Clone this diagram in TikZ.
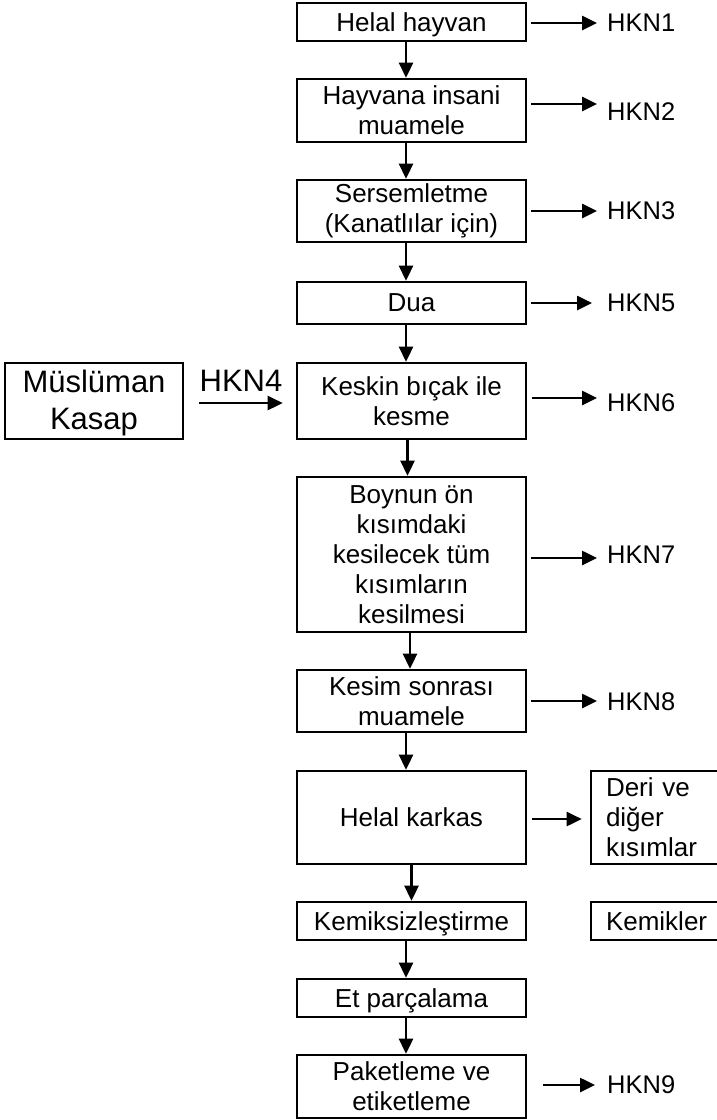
\documentclass[tikz,border=0pt]{standalone}
\usepackage{fontspec}
\setmainfont{Liberation Sans}
\usetikzlibrary{arrows.meta}
\begin{document}
\begin{tikzpicture}[x=1pt,y=-1pt,
  box/.style={draw,line width=2.6pt,minimum width=229pt,inner sep=0pt,align=center,
    font=\fontsize{26}{30}\selectfont},
  onebox/.style={box,text depth=0pt},
  sidebox/.style={draw,line width=2.6pt,minimum width=159pt,text width=129pt,
    inner xsep=15pt,inner ysep=0pt,align=left,font=\fontsize{26}{30}\selectfont},
  hkn/.style={anchor=west,inner sep=0pt,font=\fontsize{25.5}{30}\selectfont},
  arr/.style={line width=2.6pt,-{Triangle[length=15pt,width=14pt]}}]
\useasboundingbox (0,0) rectangle (717,1120);
\clip (0,0) rectangle (717,1120);

% main process chain
\node[onebox,minimum height=38pt] (b1)  at (411.5,22)    {Helal hayvan};
\node[box,minimum height=63pt]    (b2)  at (411.5,110.5) {Hayvana insani\\muamele};
\node[box,minimum height=62pt]    (b3)  at (411.5,211)   {Sersemletme\\(Kanatlılar için)};
\node[onebox,minimum height=42pt] (b4)  at (411.5,303)   {Dua};
\node[box,minimum height=76pt]    (b5)  at (411.5,401)   {Keskin bıçak ile\\kesme};
\node[box,minimum height=155pt]   (b6)  at (411.5,554.5) {Boynun ön\\kısımdaki\\kesilecek tüm\\kısımların\\kesilmesi};
\node[box,minimum height=62pt]    (b7)  at (411.5,701)   {Kesim sonrası\\muamele};
\node[onebox,minimum height=93pt] (b8)  at (411.5,817.5) {Helal karkas};
\node[onebox,minimum height=38pt] (b9)  at (411.5,921)   {Kemiksizleştirme};
\node[onebox,minimum height=38pt] (b10) at (411.5,998)   {Et parçalama};
\node[box,minimum height=63pt]    (b11) at (411.5,1086.5){Paketleme ve\\etiketleme};

% side boxes
\node[draw,line width=2.6pt,minimum width=178pt,minimum height=76pt,inner sep=0pt,
  align=center,font=\fontsize{31}{37}\selectfont,text depth=2pt] (kasap) at (94,401) {Müslüman\\Kasap};
\node[sidebox,minimum height=93pt] (deri) at (670.5,817.5) {Deri ve\\diğer\\kısımlar};
\node[sidebox,minimum height=38pt,text depth=0pt] (kemik) at (670.5,921) {Kemikler};

% control point labels
\node[hkn] (h1) at (607,23)   {HKN1};
\node[hkn] (h2) at (607,112)  {HKN2};
\node[hkn] (h3) at (607,211)  {HKN3};
\node[hkn] (h5) at (607,303)  {HKN5};
\node[hkn] (h6) at (607,403)  {HKN6};
\node[hkn] (h7) at (607,555)  {HKN7};
\node[hkn] (h8) at (607,702)  {HKN8};
\node[hkn] (h9) at (607,1085) {HKN9};

% vertical flow
\draw[arr] ([xshift=-5.5pt]b1.south)  -- ([xshift=-5.5pt]b2.north);
\draw[arr] ([xshift=-5.5pt]b2.south)  -- ([xshift=-5.5pt]b3.north);
\draw[arr] ([xshift=-5.5pt]b3.south)  -- ([xshift=-5.5pt]b4.north);
\draw[arr] ([xshift=-5.5pt]b4.south)  -- ([xshift=-5.5pt]b5.north);
\draw[arr] ([xshift=-4pt]b5.south)    -- ([xshift=-4pt]b6.north);
\draw[arr] ([xshift=-1.5pt]b6.south)  -- ([xshift=-1.5pt]b7.north);
\draw[arr] ([xshift=-5.5pt]b7.south)  -- ([xshift=-5.5pt]b8.north);
\draw[arr] ([xshift=0pt]b8.south)     -- ([xshift=0pt]b9.north);
\draw[arr] ([xshift=-5.5pt]b9.south)  -- ([xshift=-5.5pt]b10.north);
\draw[arr] ([xshift=-5.5pt]b10.south) -- ([xshift=-5.5pt]b11.north);

% control point arrows
\draw[arr] ([xshift=4pt,yshift=-1pt]b1.east)   -- ([xshift=-10pt]h1.west);
\draw[arr] ([xshift=4pt,yshift=6.5pt]b2.east)  -- ([xshift=-10pt,yshift=8pt]h2.west);
\draw[arr] ([xshift=4pt]b3.east)               -- ([xshift=-10pt]h3.west);
\draw[arr] ([xshift=4pt]b4.east)               -- ([xshift=-15pt]h5.west);
\draw[arr] ([xshift=5pt,yshift=3pt]b5.east)    -- ([xshift=-10pt,yshift=5pt]h6.west);
\draw[arr] ([xshift=4pt,yshift=-3.5pt]b6.east) -- ([xshift=-10pt,yshift=-3pt]h7.west);
\draw[arr] ([xshift=4pt]b7.east)               -- ([xshift=-10pt,yshift=1pt]h8.west);
\draw[arr] ([xshift=16pt,yshift=1.5pt]b11.east)-- ([xshift=-12pt]h9.west);

% side arrows
\draw[arr] ([xshift=5pt,yshift=-1.5pt]b8.east) -- ([xshift=-8pt,yshift=-1.5pt]deri.west);
\draw[arr] ([xshift=15pt,yshift=-2pt]kasap.east) -- node[midway,above=10pt,inner sep=0pt,
  font=\fontsize{31}{37}\selectfont] (h4) {HKN4} ([xshift=-13pt,yshift=-2pt]b5.west);
\end{tikzpicture}
\end{document}
